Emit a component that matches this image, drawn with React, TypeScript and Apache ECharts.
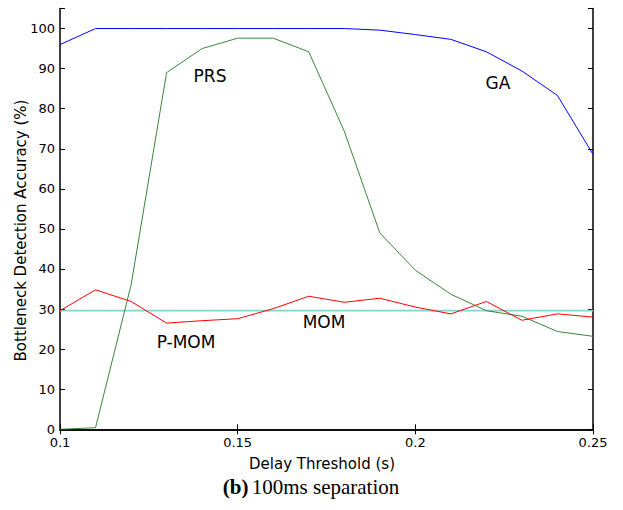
import React, { useEffect, useRef } from "react";
import * as echarts from "echarts";

const thresholds = [0.1, 0.11, 0.12, 0.13, 0.14, 0.15, 0.16, 0.17, 0.18, 0.19, 0.2, 0.21, 0.22, 0.23, 0.24, 0.25];
const gaValues = [96, 100, 100, 100, 100, 100, 100, 100, 100, 99.6, 98.5, 97.3, 94.2, 89.4, 83.3, 68.6];
const prsValues = [0, 0.4, 36, 89, 95, 97.6, 97.6, 94.2, 74.4, 49, 39.7, 33.7, 29.6, 28.2, 24.4, 23.2];
const pmomValues = [29.6, 34.8, 31.9, 26.5, 27.1, 27.6, 30.1, 33.2, 31.7, 32.7, 30.5, 28.8, 31.9, 27.2, 28.8, 28.0];
const momValues = [29.6, 29.6, 29.6, 29.6, 29.6, 29.6, 29.6, 29.6, 29.6, 29.6, 29.6, 29.6, 29.6, 29.6, 29.6, 29.6];
const xTicks = [0.1, 0.15, 0.2, 0.25];

const pair = (vals: number[]) => thresholds.map((t, i) => [t, vals[i]]);

export default function App() {
  const ref = useRef<HTMLDivElement>(null);
  useEffect(() => {
    if (!ref.current) return;
    const chart = echarts.init(ref.current, null, { renderer: "svg" });
    const sans = "DejaVu Sans";
    const axisLine = { show: true, lineStyle: { color: "#000", width: 1.5 } };
    const tick = { show: true, inside: true, length: 5, lineStyle: { color: "#000", width: 1 } };
    const label = (text: string, x: number, y: number) => ({
      type: "text",
      x,
      y,
      style: { text, font: `17px "${sans}"`, fill: "#000", textAlign: "center", textVerticalAlign: "middle" },
    });
    chart.setOption({
      animation: false,
      backgroundColor: "#fff",
      grid: { left: 60, right: 30, top: 8.5, bottom: 80.7, containLabel: false },
      xAxis: [
        {
          type: "value",
          min: 0.1,
          max: 0.25,
          interval: 0.05,
          position: "bottom",
          axisLine,
          axisTick: tick,
          splitLine: { show: false },
          axisLabel: {
            color: "#000",
            fontFamily: sans,
            fontSize: 13,
            margin: 7,
            formatter: (v: number) => {
              const f = xTicks.find((t) => Math.abs(t - v) < 1e-6);
              return f !== undefined ? String(f) : "";
            },
          },
        },
        {
          type: "value",
          min: 0.1,
          max: 0.25,
          interval: 0.05,
          position: "top",
          axisLine,
          axisTick: tick,
          splitLine: { show: false },
          axisLabel: { show: false },
        },
      ],
      yAxis: [
        {
          type: "value",
          min: 0,
          max: 105,
          interval: 10,
          position: "left",
          axisLine,
          axisTick: tick,
          splitLine: { show: false },
          axisLabel: {
            color: "#000",
            fontFamily: sans,
            fontSize: 13,
            margin: 5,
            formatter: (v: number) => (v > 100 ? "" : String(v)),
          },
        },
        {
          type: "value",
          min: 0,
          max: 105,
          interval: 10,
          position: "right",
          axisLine,
          axisTick: tick,
          splitLine: { show: false },
          axisLabel: { show: false },
        },
      ],
      series: [
        {
          name: "MOM",
          type: "line",
          data: pair(momValues),
          symbol: "none",
          lineStyle: { color: "#86d3d3", width: 1.8 },
          z: 1,
        },
        {
          name: "GA",
          type: "line",
          data: pair(gaValues),
          symbol: "none",
          lineStyle: { color: "#0000ff", width: 1 },
          z: 2,
        },
        {
          name: "PRS",
          type: "line",
          data: pair(prsValues),
          symbol: "none",
          lineStyle: { color: "#3a853a", width: 1 },
          z: 2,
        },
        {
          name: "P-MOM",
          type: "line",
          data: pair(pmomValues),
          symbol: "none",
          lineStyle: { color: "#ff0000", width: 1 },
          z: 3,
        },
      ],
      graphic: [
        label("PRS", 210, 76),
        label("GA", 498, 83),
        label("MOM", 324, 322),
        label("P-MOM", 186, 342),
        {
          type: "text",
          x: 322,
          y: 464,
          style: { text: "Delay Threshold (s)", font: `15px "${sans}"`, fill: "#000", textAlign: "center", textVerticalAlign: "middle" },
        },
        {
          type: "text",
          x: 21,
          y: 230.5,
          rotation: Math.PI / 2,
          style: {
            text: "Bottleneck Detection Accuracy (%)",
            font: `15px "${sans}"`,
            fill: "#000",
            textAlign: "center",
            textVerticalAlign: "middle",
          },
        },
        {
          type: "text",
          x: 311,
          y: 487,
          style: {
            text: "{b|(b)} {n|100ms separation}",
            textAlign: "center",
            textVerticalAlign: "middle",
            rich: {
              b: { fontFamily: "Liberation Serif", fontWeight: "bold", fontSize: 21, fill: "#000" },
              n: { fontFamily: "Liberation Serif", fontSize: 21, fill: "#000" },
            },
          },
        },
      ],
    });
    return () => chart.dispose();
  }, []);
  return <div ref={ref} style={{ width: 623, height: 510, position: "absolute", left: 0, top: 0 }} />;
}
